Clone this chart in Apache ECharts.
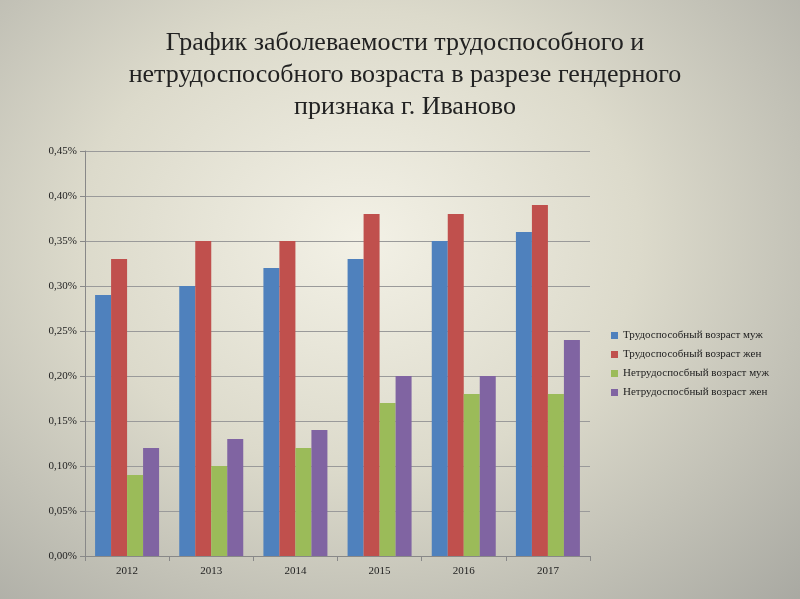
<!DOCTYPE html>
<html><head><meta charset="utf-8">
<script src="https://cdn.jsdelivr.net/npm/echarts@6/dist/echarts.min.js"></script>
<style>html,body{margin:0;padding:0;}#c{width:800px;height:599px;background:radial-gradient(ellipse at 45% 40%,#f3f1e6 0%,#dcdacb 45%,#a9a9a2 100%);}</style>
</head><body><div id="c"></div>
<script>
const categories=['2012','2013','2014','2015','2016','2017'];
const names=['Трудоспособный возраст муж','Трудоспособный возраст жен','Нетрудоспосбный возраст муж','Нетрудоспосбный возраст жен'];
const s1=[0.29,0.30,0.32,0.33,0.35,0.36];
const s2=[0.33,0.35,0.35,0.38,0.38,0.39];
const s3=[0.09,0.10,0.12,0.17,0.18,0.18];
const s4=[0.12,0.13,0.14,0.20,0.20,0.24];
const colors=['#4F81BD','#C0504D','#9BBB59','#8064A2'];
const ch=echarts.init(document.getElementById('c'));
ch.setOption({
 color:colors,
 textStyle:{fontFamily:'Liberation Serif'},
 title:{text:'График заболеваемости трудоспособного и\nнетрудоспособного возраста в разрезе гендерного\nпризнака г. Иваново',left:400,top:22,textAlign:'center',
  textStyle:{fontFamily:'Liberation Serif',fontSize:26,fontWeight:'normal',color:'#222',lineHeight:32}},
 legend:{orient:'vertical',left:606,top:325,itemWidth:7,itemHeight:7,itemGap:8,icon:'rect',
  textStyle:{fontFamily:'Liberation Serif',fontSize:11,color:'#222'}},
 grid:{left:85,right:210,top:151,bottom:43},
 xAxis:{type:'category',data:categories,axisLine:{lineStyle:{color:'#888'}},axisTick:{show:true,lineStyle:{color:'#888'}},
  axisLabel:{color:'#222',fontSize:11,margin:10}},
 yAxis:{type:'value',min:0,max:0.0045,interval:0.0005,
  axisLine:{show:true,lineStyle:{color:'#888'}},axisTick:{show:true,lineStyle:{color:'#888'}},
  splitLine:{lineStyle:{color:'#9a9a9a'}},
  axisLabel:{color:'#222',fontSize:11,formatter:v=>(v*100).toFixed(2).replace('.',',')+'%'}},
 series:[s1,s2,s3,s4].map((d,i)=>({name:names[i],type:'bar',data:d.map(v=>v/100),barWidth:16,barGap:'0%'}))
});
</script></body></html>
